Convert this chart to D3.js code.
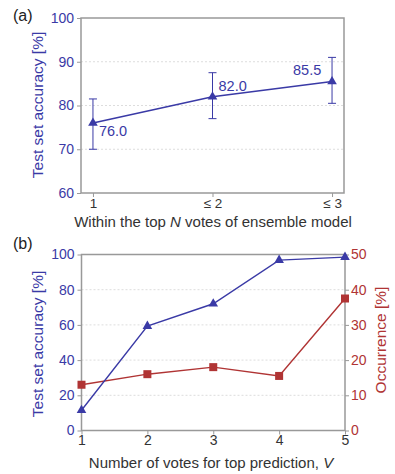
<!DOCTYPE html>
<html>
<head>
<meta charset="utf-8">
<script src="https://cdn.jsdelivr.net/npm/d3@7"></script>
<style>
body { margin:0; background:#fff; }
svg text { font-family: "Liberation Sans", Arial, sans-serif; }
</style>
</head>
<body>
<script>
// panel (a) data
var topN = ["1", "\u2264 2", "\u2264 3"];
var accA = [76.0, 82.0, 85.5];
var errLo = [70, 77, 80.5];
var errHi = [81.5, 87.5, 91];

// panel (b) data
var votes = [1, 2, 3, 4, 5];
var accB = [11.5, 59.3, 72, 96.8, 98.5];
var occB = [13, 16, 18, 15.5, 37.5];

var blue = "#3a3aa6", red = "#b03434", frame = "#999";

var svg = d3.select("body").append("svg").attr("width", 395).attr("height", 474);

function box(g, x0, x1, y0, y1) {
  g.append("rect").attr("x", x0).attr("y", y0).attr("width", x1 - x0).attr("height", y1 - y0)
    .attr("fill", "none").attr("stroke", frame).attr("stroke-width", 1.5);
}
function styleAxis(ax, col) {
  ax.select(".domain").remove();
  ax.selectAll("line").attr("stroke", frame);
  ax.selectAll("text").attr("fill", col).style("font-size", "14px");
}

// ---------------- panel (a) ----------------
var ga = svg.append("g");
var xa = d3.scalePoint().domain(topN).range([81, 344]).padding(0.1);
var ya = d3.scaleLinear().domain([60, 100]).range([193, 18]);

ga.selectAll(".grid").data([70, 80, 90]).enter().append("line")
  .attr("x1", 81).attr("x2", 344).attr("y1", ya).attr("y2", ya)
  .attr("stroke", "#ddd").attr("stroke-dasharray", "2,2");

var axL = ga.append("g").attr("transform", "translate(81,0)")
  .call(d3.axisLeft(ya).tickValues([60, 70, 80, 90, 100]).tickSize(4).tickPadding(3));
styleAxis(axL, blue);
var axB = ga.append("g").attr("transform", "translate(0,193)")
  .call(d3.axisBottom(xa).tickSize(4).tickPadding(1));
styleAxis(axB, "#333");
axB.selectAll("text").style("font-size", "13.5px");
box(ga, 81, 344, 18, 193);

// error bars
topN.forEach(function(d, i) {
  var x = xa(d);
  ga.append("line").attr("x1", x).attr("x2", x).attr("y1", ya(errLo[i])).attr("y2", ya(errHi[i]))
    .attr("stroke", blue).attr("stroke-width", 1);
  [errLo[i], errHi[i]].forEach(function(v) {
    ga.append("line").attr("x1", x - 4).attr("x2", x + 4).attr("y1", ya(v)).attr("y2", ya(v))
      .attr("stroke", blue).attr("stroke-width", 1);
  });
});

ga.append("path").datum(accA)
  .attr("d", d3.line().x(function(d, i) { return xa(topN[i]); }).y(function(d) { return ya(d); }))
  .attr("fill", "none").attr("stroke", blue).attr("stroke-width", 1.6);

var tri = d3.symbol().type(d3.symbolTriangle).size(40);
ga.selectAll(".ma").data(accA).enter().append("path")
  .attr("d", tri).attr("fill", blue)
  .attr("transform", function(d, i) { return "translate(" + xa(topN[i]) + "," + ya(d) + ")"; });

// value labels
var lblDx = [6, 6, -39], lblDy = [13, -6, -6];
ga.selectAll(".lab").data(accA).enter().append("text")
  .attr("x", function(d, i) { return xa(topN[i]) + lblDx[i]; })
  .attr("y", function(d, i) { return ya(d) + lblDy[i]; })
  .attr("fill", blue).style("font-size", "14.5px")
  .text(function(d) { return d.toFixed(1); });

ga.append("text").attr("transform", "translate(43,105) rotate(-90)")
  .attr("text-anchor", "middle").attr("fill", blue).style("font-size", "15.5px")
  .text("Test set accuracy [%]");
ga.append("text").attr("x", 213).attr("y", 227).attr("text-anchor", "middle")
  .attr("fill", "#333").style("font-size", "15px")
  .html("Within the top <tspan font-style='italic'>N</tspan> votes of ensemble model");
ga.append("text").attr("x", 13).attr("y", 21).attr("fill", "#222").style("font-size", "16px").text("(a)");

// ---------------- panel (b) ----------------
var gb = svg.append("g");
var xb = d3.scaleLinear().domain([1, 5]).range([81.5, 345]);
var yb = d3.scaleLinear().domain([0, 100]).range([430.5, 254.5]);
var yr = d3.scaleLinear().domain([0, 50]).range([430.5, 254.5]);

gb.selectAll(".grid").data([20, 40, 60, 80]).enter().append("line")
  .attr("x1", 81.5).attr("x2", 345).attr("y1", yb).attr("y2", yb)
  .attr("stroke", "#ddd").attr("stroke-dasharray", "2,2");

var bL = gb.append("g").attr("transform", "translate(81.5,0)")
  .call(d3.axisLeft(yb).tickValues([0, 20, 40, 60, 80, 100]).tickSize(4).tickPadding(3));
styleAxis(bL, blue);
var bR = gb.append("g").attr("transform", "translate(345,0)")
  .call(d3.axisRight(yr).tickValues([0, 10, 20, 30, 40, 50]).tickSize(4).tickPadding(2));
styleAxis(bR, red);
var bB = gb.append("g").attr("transform", "translate(0,430.5)")
  .call(d3.axisBottom(xb).tickValues(votes).tickFormat(d3.format("d")).tickSize(4).tickPadding(1));
styleAxis(bB, "#333");
box(gb, 81.5, 345, 254.5, 430.5);

gb.append("path").datum(occB)
  .attr("d", d3.line().x(function(d, i) { return xb(votes[i]); }).y(function(d) { return yr(d); }))
  .attr("fill", "none").attr("stroke", red).attr("stroke-width", 1.4);
gb.selectAll(".sq").data(occB).enter().append("rect")
  .attr("x", function(d, i) { return xb(votes[i]) - 4; })
  .attr("y", function(d) { return yr(d) - 4; })
  .attr("width", 8).attr("height", 8).attr("fill", red);

gb.append("path").datum(accB)
  .attr("d", d3.line().x(function(d, i) { return xb(votes[i]); }).y(function(d) { return yb(d); }))
  .attr("fill", "none").attr("stroke", blue).attr("stroke-width", 1.4);
gb.selectAll(".tb").data(accB).enter().append("path")
  .attr("d", tri).attr("fill", blue)
  .attr("transform", function(d, i) { return "translate(" + xb(votes[i]) + "," + yb(d) + ")"; });

gb.append("text").attr("transform", "translate(43,344) rotate(-90)")
  .attr("text-anchor", "middle").attr("fill", blue).style("font-size", "15.5px")
  .text("Test set accuracy [%]");
gb.append("text").attr("transform", "translate(386,340) rotate(-90)")
  .attr("text-anchor", "middle").attr("fill", red).style("font-size", "15.5px")
  .text("Occurrence [%]");
gb.append("text").attr("x", 211).attr("y", 468).attr("text-anchor", "middle")
  .attr("fill", "#333").style("font-size", "15px")
  .html("Number of votes for top prediction, <tspan font-style='italic'>V</tspan>");
gb.append("text").attr("x", 13).attr("y", 249).attr("fill", "#222").style("font-size", "16px").text("(b)");
</script>
</body>
</html>
